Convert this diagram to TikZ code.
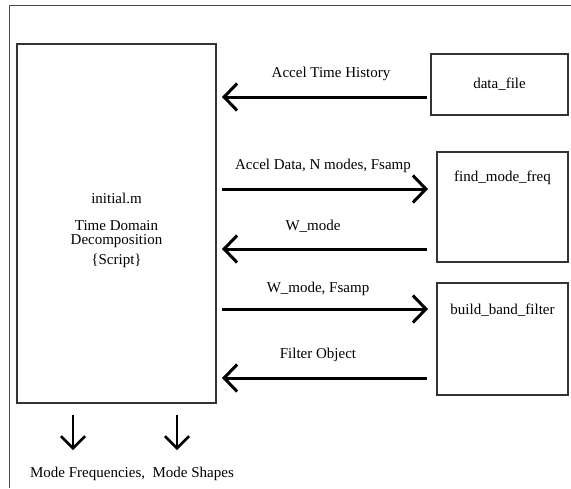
\documentclass[tikz,border=0pt]{standalone}
\usepackage{fontspec}
\setmainfont{Liberation Serif}
\usetikzlibrary{arrows.meta}
\begin{document}
\begin{tikzpicture}[x=1pt,y=-1pt,
  box/.style={draw=black!80,line width=1.2pt,inner sep=0pt},
  lbl/.style={font=\fontsize{15}{17}\selectfont,inner sep=0pt},
  flow/.style={line width=3pt,-{Straight Barb[length=13pt,width=27pt,line width=3pt]}},
  down/.style={line width=2.6pt,-{Straight Barb[length=12pt,width=24pt,line width=2.6pt]}}]
\useasboundingbox (0,0) rectangle (571,488);
% outer frame (left and top edges only)
\coordinate (fa) at (9,488);
\coordinate (fb) at (9,5);
\coordinate (fc) at (571,5);
\draw[black!70,line width=1pt] (fa) -- (fb) -- (fc);
% boxes
\node[box,minimum width=199pt,minimum height=359pt] (main) at (116.5,223.5) {};
\node[box,minimum width=137pt,minimum height=61pt] (data) at (499.5,84.5) {};
\node[box,minimum width=131pt,minimum height=110pt] (find) at (502.5,207) {};
\node[box,minimum width=131pt,minimum height=112pt] (build) at (502.5,339) {};
% box texts
\node[lbl] (tdata) at (499.5,84) {data\_file};
\node[lbl] (tfind) at (502.5,178) {find\_mode\_freq};
\node[lbl] (tbuild) at (502.5,310) {build\_band\_filter};
\node[lbl] (t1) at (116.5,198) {initial.m};
\node[lbl,align=center] (t2) at (116.5,234) {Time Domain\\[-3pt]Decomposition};
\node[lbl] (t3) at (116.5,261) {\{Script\}};
% connector anchors
\coordinate (a1s) at (427,97);  \coordinate (a1e) at (222,97);
\coordinate (a2s) at (222,189); \coordinate (a2e) at (428,189);
\coordinate (a3s) at (427,249); \coordinate (a3e) at (222,249);
\coordinate (a4s) at (222,309); \coordinate (a4e) at (428,309);
\coordinate (a5s) at (427,378); \coordinate (a5e) at (222,378);
\draw[flow] (a1s) -- (a1e);
\draw[flow] (a2s) -- (a2e);
\draw[flow] (a3s) -- (a3e);
\draw[flow] (a4s) -- (a4e);
\draw[flow] (a5s) -- (a5e);
\node[lbl] (l1) at (331,74) {Accel Time History};
\node[lbl] (l2) at (323,166) {Accel Data, N modes, Fsamp};
\node[lbl] (l3) at (313,226) {W\_mode};
\node[lbl] (l4) at (318,289) {W\_mode, Fsamp};
\node[lbl] (l5) at (318,355) {Filter Object};
% outputs
\coordinate (d1s) at (73,415); \coordinate (d1e) at (73,450);
\coordinate (d2s) at (177,415); \coordinate (d2e) at (177,450);
\draw[down] (d1s) -- (d1e);
\draw[down] (d2s) -- (d2e);
\node[lbl] (out) at (132,474) {Mode Frequencies,\ \ Mode Shapes};
\end{tikzpicture}
\end{document}
